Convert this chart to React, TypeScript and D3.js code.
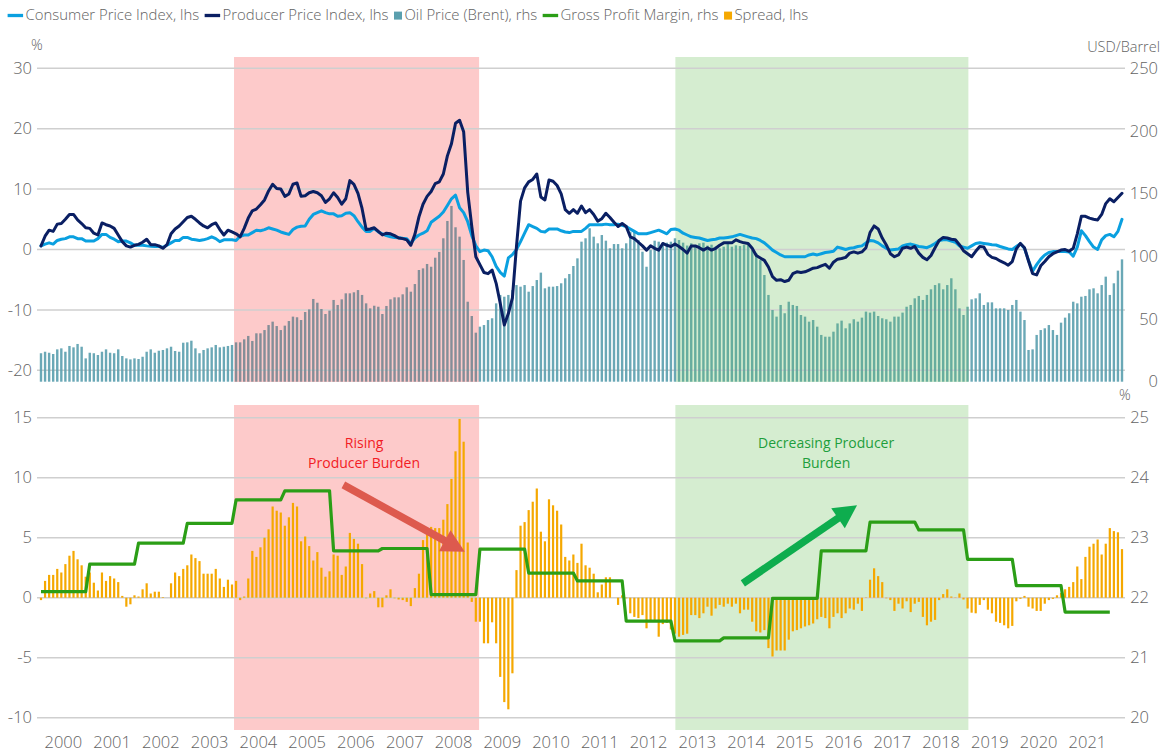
import React, { useEffect, useRef } from "react";
import * as d3 from "d3";

// ---------------- DATA (monthly, Jan 2000 – Mar 2022) ----------------
const yearLabels = ["2000","2001","2002","2003","2004","2005","2006","2007","2008","2009","2010","2011","2012","2013","2014","2015","2016","2017","2018","2019","2020","2021"];

// Consumer Price Index, % y/y (lhs, top)
const cpi2000 = [0.6, 0.9, 1.1, 0.9, 1.5, 1.7, 1.8, 2.1, 2.1, 1.8, 1.8, 1.4];
const cpi2001 = [1.4, 1.4, 1.8, 2.5, 2.5, 2.0, 1.7, 1.3, 1.4, 1.4, 1.1, 0.7];
const cpi2002 = [0.75, 0.7, 0.6, 0.55, 0.5, 0.5, 0.35, 0.7, 1.1, 1.5, 1.5, 2.0];
const cpi2003 = [2.0, 1.7, 1.6, 1.5, 1.6, 1.8, 2.1, 1.8, 1.3, 1.6, 1.6, 1.6];
const cpi2004 = [1.5, 2.2, 2.4, 2.4, 2.8, 3.2, 3.1, 3.3, 3.6, 3.4, 3.2, 2.9];
const cpi2005 = [2.7, 2.5, 3.3, 3.7, 3.85, 3.9, 5.0, 5.8, 6.1, 6.4, 6.1, 5.9];
const cpi2006 = [5.9, 5.5, 5.6, 6.0, 6.1, 5.6, 4.6, 3.7, 3.0, 3.0, 3.5, 2.9];
const cpi2007 = [2.6, 2.3, 2.1, 2.0, 1.95, 1.85, 1.8, 1.0, 1.9, 2.4, 2.7, 3.1];
const cpi2008 = [4.5, 5.0, 5.5, 6.2, 7.3, 8.4, 9.0, 6.9, 6.1, 4.6, 2.3, 0.6];
const cpi2009 = [-0.35, -0.1, -0.2, -1.2, -2.8, -3.8, -4.4, -1.4, -0.85, 0.0, 1.3, 2.7];
const cpi2010 = [4.1, 3.8, 3.5, 3.0, 2.9, 3.4, 3.4, 3.4, 3.1, 2.9, 2.8, 3.0];
const cpi2011 = [3.0, 3.0, 3.5, 4.1, 4.1, 4.1, 4.1, 4.2, 4.1, 4.1, 4.2, 4.0];
const cpi2012 = [3.8, 3.4, 3.0, 2.6, 2.6, 2.6, 2.8, 3.0, 3.2, 2.9, 2.6, 3.3];
const cpi2013 = [3.4, 3.2, 2.7, 2.4, 2.1, 2.0, 1.9, 1.7, 1.5, 1.6, 1.7, 1.9];
const cpi2014 = [1.9, 2.0, 2.1, 2.3, 2.5, 2.3, 2.1, 1.9, 1.8, 1.5, 1.1, 0.5];
const cpi2015 = [-0.1, -0.5, -0.9, -1.2, -1.2, -1.2, -1.2, -1.2, -1.2, -0.9, -0.75, -0.9];
const cpi2016 = [-0.7, -0.5, -0.4, -0.3, 0.4, 0.2, 0.0, 0.2, 0.3, 0.5, 0.6, 1.1];
const cpi2017 = [1.5, 1.4, 1.1, 0.6, 0.2, -0.1, 0.0, 0.1, 0.6, 0.8, 0.9, 0.7];
const cpi2018 = [0.5, 0.4, 0.3, 0.6, 1.0, 1.5, 1.6, 1.6, 1.4, 1.2, 0.6, 0.4];
const cpi2019 = [0.2, 0.6, 1.0, 1.1, 1.0, 0.9, 0.8, 0.75, 0.5, 0.3, 0.1, 0.0];
const cpi2020 = [0.5, 0.95, 0.2, -1.8, -3.6, -2.5, -1.6, -0.9, -0.5, -0.35, -0.35, -0.35];
const cpi2021 = [-0.35, -0.4, -1.1, 0.4, 3.1, 2.3, 1.3, 0.4, 0.0, 1.6, 2.3, 2.5];
const cpi2022 = [2.1, 3.0, 5.0];

// Producer Price Index, % y/y (lhs, top)
const ppi2000 = [0.6, 2.2, 3.2, 3.0, 4.2, 4.3, 5.0, 5.8, 5.8, 4.9, 4.3, 3.6];
const ppi2001 = [3.5, 2.7, 2.4, 4.4, 4.1, 3.9, 3.5, 2.4, 1.3, 0.6, 0.4, 0.7];
const ppi2002 = [0.85, 1.2, 1.7, 0.8, 0.8, 0.6, 0.2, 0.8, 2.6, 3.4, 3.9, 4.6];
const ppi2003 = [5.3, 5.5, 5.0, 4.4, 3.9, 3.6, 4.1, 4.4, 3.3, 2.4, 3.2, 2.9];
const ppi2004 = [2.6, 2.1, 3.5, 5.2, 6.4, 6.7, 7.4, 8.2, 9.7, 10.8, 10.1, 10.0];
const ppi2005 = [8.8, 9.2, 10.8, 11.0, 8.8, 8.9, 9.4, 9.6, 9.4, 8.9, 7.8, 8.4];
const ppi2006 = [9.4, 8.6, 7.5, 8.4, 11.4, 10.8, 9.3, 6.8, 3.3, 3.4, 3.6, 3.0];
const ppi2007 = [2.4, 2.7, 2.6, 2.3, 1.9, 1.8, 1.6, 0.7, 2.5, 5.4, 7.5, 8.8];
const ppi2008 = [9.6, 10.9, 11.2, 12.5, 15.5, 17.5, 20.9, 21.4, 19.5, 9.5, 3.8, -1.2];
const ppi2009 = [-2.5, -3.8, -4.0, -3.4, -5.6, -8.9, -12.5, -10.6, -8.0, 0.5, 8.0, 10.2];
const ppi2010 = [11.2, 11.6, 12.5, 8.7, 8.2, 11.5, 11.3, 10.6, 9.2, 6.6, 6.0, 6.6];
const ppi2011 = [6.0, 7.2, 6.1, 6.6, 5.8, 4.7, 5.1, 6.0, 5.3, 4.5, 3.8, 4.3];
const ppi2012 = [3.8, 2.1, 1.8, 1.2, 0.6, -0.1, 0.6, 0.2, -0.1, 1.0, 0.7, 0.5];
const ppi2013 = [0.9, 0.5, 0.0, -0.6, 0.6, 0.6, 0.3, -0.1, 0.3, -0.1, 0.2, 0.7];
const ppi2014 = [1.1, 1.1, 1.1, 1.6, 1.3, 1.1, 1.0, 0.2, -1.0, -1.4, -1.8, -2.9];
const ppi2015 = [-4.5, -5.1, -5.0, -5.3, -5.1, -4.0, -3.7, -3.8, -3.7, -3.4, -3.1, -3.0];
const ppi2016 = [-2.7, -2.45, -3.1, -2.1, -1.6, -1.5, -1.3, -0.6, -0.4, -0.6, -0.4, 0.3];
const ppi2017 = [2.8, 3.9, 3.4, 1.9, 0.75, -0.7, -1.2, -0.9, 0.2, 0.4, 0.2, 0.5];
const ppi2018 = [-0.6, -1.3, -1.7, -1.0, 0.3, 1.5, 2.0, 1.9, 1.7, 1.6, 0.8, -0.2];
const ppi2019 = [-0.7, -1.2, -0.3, 0.5, 0.4, -0.8, -1.3, -1.5, -1.9, -2.2, -2.6, -2.0];
const ppi2020 = [0.1, 1.0, 0.3, -1.9, -4.0, -4.2, -2.7, -2.0, -1.2, -0.7, -0.4, -0.1];
const ppi2021 = [0.0, -0.3, 0.2, 2.6, 5.5, 5.5, 5.2, 5.0, 4.9, 5.8, 7.6, 8.4];
const ppi2022 = [7.9, 8.6, 9.3];

// Oil Price (Brent), USD/Barrel (rhs, top)
const oil2000 = [22.7, 23.9, 23.1, 22.1, 25.8, 26.6, 23.9, 28.5, 27.4, 30.1, 27.9, 18.6];
const oil2001 = [23.1, 22.7, 21.3, 23.9, 25.8, 23.1, 22.7, 25.8, 20.5, 18.6, 17.8, 18.6];
const oil2002 = [18.1, 19.9, 23.9, 25.8, 23.1, 24.7, 25.3, 26.6, 27.9, 24.5, 23.9, 31.1];
const oil2003 = [31.4, 32.7, 26.6, 22.7, 25.3, 26.6, 27.4, 29.3, 27.4, 27.9, 28.5, 29.3];
const oil2004 = [31.4, 31.4, 33.8, 36.5, 32.5, 38.6, 38.6, 41.2, 45.2, 47.9, 44.4, 41.2];
const oil2005 = [44.7, 48.4, 51.9, 51.4, 49.2, 55.6, 57.7, 66.0, 63.0, 58.0, 54.0, 56.7];
const oil2006 = [65.2, 61.2, 65.7, 70.5, 70.5, 71.3, 73.1, 69.2, 62.5, 58.5, 60.6, 59.8];
const oil2007 = [54.0, 60.4, 65.7, 67.3, 67.3, 69.7, 75.3, 71.8, 77.9, 89.1, 90.4, 93.9];
const oil2008 = [91.7, 98.9, 103.5, 114.4, 128.2, 140.2, 123.2, 115.7, 97.1, 63.8, 52.4, 39.1];
const oil2009 = [43.9, 45.2, 49.2, 50.6, 62.5, 69.2, 67.8, 69.2, 73.1, 77.1, 75.8, 77.1];
const oil2010 = [71.8, 76.3, 81.1, 87.0, 74.5, 75.8, 75.8, 76.3, 78.5, 82.5, 85.9, 92.3];
const oil2011 = [98.4, 111.7, 114.4, 122.4, 115.7, 110.4, 117.0, 112.5, 106.4, 109.8, 109.8, 106.4];
const oil2012 = [110.4, 119.7, 119.7, 113.0, 103.7, 91.7, 105.0, 112.5, 111.7, 109.8, 110.9, 111.7];
const oil2013 = [114.4, 113.0, 110.9, 108.6, 110.4, 107.7, 110.4, 110.9, 108.6, 109.3, 107.7, 106.4];
const oil2014 = [107.7, 109.8, 107.7, 108.8, 108.2, 109.0, 110.4, 105.0, 102.4, 97.0, 85.1, 69.2];
const oil2015 = [57.2, 51.9, 61.2, 54.6, 63.8, 61.2, 60.4, 53.2, 51.9, 47.9, 49.2, 43.9];
const oil2016 = [37.3, 35.9, 35.9, 39.9, 46.5, 48.7, 42.6, 46.5, 49.8, 47.9, 51.1, 55.9];
const oil2017 = [55.1, 55.9, 52.4, 50.6, 49.8, 47.9, 51.9, 51.9, 55.1, 59.8, 61.2, 66.5];
const oil2018 = [68.4, 65.2, 69.2, 73.7, 77.1, 78.5, 73.7, 77.1, 82.5, 73.7, 58.5, 53.2];
const oil2019 = [59.8, 65.7, 66.5, 70.5, 61.2, 63.3, 63.3, 58.5, 58.5, 58.5, 57.2, 61.2];
const oil2020 = [65.2, 55.9, 49.2, 25.3, 25.8, 37.3, 41.2, 42.6, 45.2, 41.2, 37.3, 47.1];
const oil2021 = [51.1, 54.6, 63.8, 62.5, 67.8, 68.4, 73.7, 74.5, 70.5, 77.1, 83.8, 69.2];
const oil2022 = [78.5, 88.6, 97.6];

// Spread, percentage points (lhs, bottom)
const spr2000 = [-0.2, 1.4, 1.9, 1.9, 2.4, 2.1, 2.8, 3.5, 3.9, 3.2, 2.7, 1.75];
const spr2001 = [2.1, 1.25, 0.6, 2.1, 1.4, 1.8, 1.6, 1.3, 0.15, -0.75, -0.55, 0.2];
const spr2002 = [0.1, 0.7, 1.2, 0.35, 0.5, 0.5, 0.05, 0.0, 1.2, 2.1, 1.8, 2.4];
const spr2003 = [2.7, 3.6, 3.3, 3.05, 2.0, 2.0, 2.0, 2.4, 1.6, 0.9, 1.5, 1.1];
const spr2004 = [1.4, -0.2, 0.1, 1.6, 3.9, 3.4, 4.2, 5.0, 5.7, 7.6, 7.25, 7.1];
const spr2005 = [6.0, 6.7, 7.9, 7.6, 4.7, 5.1, 4.3, 3.1, 3.8, 2.5, 1.75, 2.2];
const spr2006 = [3.6, 3.5, 1.9, 2.6, 5.4, 4.9, 4.5, 2.8, -0.05, 0.35, 0.55, -0.8];
const spr2007 = [-0.8, 0.2, 0.7, -0.05, -0.15, -0.2, -0.35, -0.7, 0.8, 2.0, 4.8, 5.5];
const spr2008 = [5.9, 5.8, 5.8, 6.5, 7.8, 9.9, 12.2, 14.9, 13.0, 4.6, -0.35, -2.0];
const spr2009 = [-2.0, -3.8, -3.8, -2.05, -3.8, -6.6, -8.7, -9.3, -6.3, 2.3, 6.0, 6.3];
const spr2010 = [7.3, 8.0, 9.1, 5.5, 4.7, 8.2, 7.7, 7.25, 6.1, 3.4, 3.1, 3.6];
const spr2011 = [2.9, 4.5, 2.7, 2.5, 2.0, 0.45, 1.1, 1.7, 1.7, 0.0, -0.6, 0.2];
const spr2012 = [-0.05, -1.3, -1.6, -1.7, -1.45, -2.55, -2.0, -1.85, -3.25, -2.2, -2.1, -2.65];
const spr2013 = [-3.0, -3.25, -3.1, -3.0, -1.45, -1.45, -1.7, -1.3, -0.75, -1.5, -0.9, -0.6];
const spr2014 = [-0.75, -0.5, -0.75, -0.5, -1.3, -1.0, -1.0, -2.0, -2.8, -2.9, -2.7, -4.2];
const spr2015 = [-4.9, -4.4, -4.4, -4.4, -3.5, -2.8, -2.7, -2.55, -2.4, -2.3, -2.15, -1.8];
const spr2016 = [-1.6, -1.7, -2.55, -1.6, -1.3, -1.7, -1.3, -0.9, -1.0, -0.5, -1.1, 0.03];
const spr2017 = [1.5, 2.45, 1.8, 1.3, -0.05, -0.2, -1.1, -0.5, -0.9, -0.3, -1.2, -0.5];
const spr2018 = [-0.35, -1.6, -2.3, -2.0, -1.85, -0.2, 0.3, 0.7, 0.1, 0.03, 0.35, -0.15];
const spr2019 = [-0.9, -1.25, -1.3, -0.6, -0.2, -1.0, -1.3, -2.0, -2.1, -2.3, -2.55, -2.35];
const spr2020 = [-0.3, -0.1, 0.15, -0.75, -0.9, -1.1, -1.1, -0.5, -0.2, -0.1, 0.2, 0.4];
const spr2021 = [0.7, 0.9, 1.3, 2.6, 1.55, 3.4, 4.25, 4.5, 4.85, 3.6, 4.5, 5.8];
const spr2022 = [5.55, 5.45, 4.05];

// Gross Profit Margin, % (rhs, bottom) — one value per year 2000–2021
const gpmAnnual = [22.10, 22.56, 22.91, 23.24, 23.63, 23.78, 22.78, 22.82, 22.05, 22.81, 22.41, 22.28, 21.61, 21.28, 21.33, 21.99, 22.78, 23.26, 23.13, 22.64, 22.20, 21.76];

const cpiByYear = [cpi2000, cpi2001, cpi2002, cpi2003, cpi2004, cpi2005, cpi2006, cpi2007, cpi2008, cpi2009, cpi2010, cpi2011, cpi2012, cpi2013, cpi2014, cpi2015, cpi2016, cpi2017, cpi2018, cpi2019, cpi2020, cpi2021, cpi2022];
const ppiByYear = [ppi2000, ppi2001, ppi2002, ppi2003, ppi2004, ppi2005, ppi2006, ppi2007, ppi2008, ppi2009, ppi2010, ppi2011, ppi2012, ppi2013, ppi2014, ppi2015, ppi2016, ppi2017, ppi2018, ppi2019, ppi2020, ppi2021, ppi2022];
const oilByYear = [oil2000, oil2001, oil2002, oil2003, oil2004, oil2005, oil2006, oil2007, oil2008, oil2009, oil2010, oil2011, oil2012, oil2013, oil2014, oil2015, oil2016, oil2017, oil2018, oil2019, oil2020, oil2021, oil2022];
const spreadByYear = [spr2000, spr2001, spr2002, spr2003, spr2004, spr2005, spr2006, spr2007, spr2008, spr2009, spr2010, spr2011, spr2012, spr2013, spr2014, spr2015, spr2016, spr2017, spr2018, spr2019, spr2020, spr2021, spr2022];

const leftTicksTop = [-20, -10, 0, 10, 20, 30];
const rightTicksTop = [0, 50, 100, 150, 200, 250];
const leftTicksBottom = [-10, -5, 0, 5, 10, 15];
const rightTicksBottom = [20, 21, 22, 23, 24, 25];

// shaded periods, in month-index units (0 = Jan 2000)
const periods = [
  { from: 47.5, to: 107.8, fill: "#FDCACA", barTint: "#E03030" },
  { from: 156.1, to: 228.2, fill: "#D5EDD0", barTint: "#5DB84A" },
];

// annotations, month index / spread-axis value
const annotations = [
  { lines: ["Rising", "Producer Burden"], at: 79.5, v: 12.45, color: "#F21C24" },
  { lines: ["Decreasing Producer", "Burden"], at: 193.2, v: 12.45, color: "#1E9E3C" },
];
const arrows = [
  { from: [74.4, 9.4], to: [104.3, 3.83], color: "#DD5A4E" },
  { from: [172.7, 1.2], to: [200.8, 7.7], color: "#0EAD4E" },
];

const C_CPI = "#0AA0E0";
const C_PPI = "#0A1F63";
const C_OIL = "#5A9FAE";
const C_GPM = "#2B9E16";
const C_SPR = "#F5A800";

const legendItems = [
  { label: "Consumer Price Index, lhs", kind: "line", color: C_CPI },
  { label: "Producer Price Index, lhs", kind: "line", color: C_PPI },
  { label: "Oil Price (Brent), rhs", kind: "square", color: C_OIL },
  { label: "Gross Profit Margin, rhs", kind: "line", color: C_GPM },
  { label: "Spread, lhs", kind: "square", color: C_SPR },
];

const FONT = "'Open Sans', 'Noto Sans', 'DejaVu Sans', sans-serif";
const TXT = "#636363";

export default function App() {
  const ref = useRef<SVGSVGElement | null>(null);

  useEffect(() => {
    const svg = d3.select(ref.current);
    svg.selectAll("*").remove();

    const cpi = cpiByYear.flat();
    const ppi = ppiByYear.flat();
    const oil = oilByYear.flat();
    const spread = spreadByYear.flat();
    const gpm = gpmAnnual.flatMap((v) => [v, v, v, v, v, v, v, v, v, v, v, v]);
    const N = cpi.length;

    const x = d3.scaleLinear().domain([0, N - 1]).range([41, 1122]);
    const gx0 = 37, gx1 = 1125;
    const topY0 = 57, topY1 = 382, botY0 = 405, botY1 = 730;

    const yL = d3.scaleLinear().domain([-20, 30]).range([370.3, 68.3]);
    const yR = d3.scaleLinear().domain([0, 250]).range([381.7, 68.3]);
    const yS = d3.scaleLinear().domain([-10, 15]).range([717.7, 417.7]);
    const yG = d3.scaleLinear().domain([20, 25]).range([717.7, 417.7]);

    svg.append("rect").attr("width", 1163).attr("height", 753).attr("fill", "#fff");

    // shading
    const shade = svg.append("g");
    periods.forEach((p) => {
      [[topY0, topY1], [botY0, botY1]].forEach(([a, b]) => {
        shade.append("rect")
          .attr("x", x(p.from)).attr("width", x(p.to) - x(p.from))
          .attr("y", a).attr("height", b - a).attr("fill", p.fill);
      });
    });

    // gridlines
    const grid = svg.append("g").attr("stroke", "#CFCFCF").attr("stroke-width", 1.5);
    leftTicksTop.forEach((t) => grid.append("line").attr("x1", gx0).attr("x2", gx1).attr("y1", yL(t)).attr("y2", yL(t)));
    leftTicksBottom.forEach((t) => grid.append("line").attr("x1", gx0).attr("x2", gx1).attr("y1", yS(t)).attr("y2", yS(t)));

    // oil bars (tinted where a shaded period lies over them)
    const bw = 2.4;
    const barFill = (i: number) => {
      const p = periods.find((q) => i >= q.from && i <= q.to);
      return p ? d3.interpolateRgb(C_OIL, p.barTint)(0.22) : C_OIL;
    };
    svg.append("g").selectAll("rect").data(oil).join("rect")
      .attr("x", (_d, i) => x(i) - bw / 2).attr("width", bw)
      .attr("y", (d) => yR(d)).attr("height", (d) => yR(0) - yR(d))
      .attr("fill", (_d, i) => barFill(i)).attr("fill-opacity", 0.9);

    // lines top
    const lineL = d3.line<number>().x((_d, i) => x(i)).y((d) => yL(d));
    svg.append("path").attr("d", lineL(cpi)!).attr("fill", "none").attr("stroke", C_CPI)
      .attr("stroke-width", 3).attr("stroke-linejoin", "round").attr("stroke-linecap", "round");
    svg.append("path").attr("d", lineL(ppi)!).attr("fill", "none").attr("stroke", C_PPI)
      .attr("stroke-width", 3).attr("stroke-linejoin", "round").attr("stroke-linecap", "round");

    // spread bars
    const sw = 2.2;
    svg.append("g").selectAll("rect").data(spread).join("rect")
      .attr("x", (_d, i) => x(i) - sw / 2).attr("width", sw)
      .attr("y", (d) => Math.min(yS(d), yS(0))).attr("height", (d) => Math.abs(yS(d) - yS(0)))
      .attr("fill", C_SPR);

    // GPM line
    const lineG = d3.line<number>().x((_d, i) => x(i)).y((d) => yG(d));
    svg.append("path").attr("d", lineG(gpm)!).attr("fill", "none").attr("stroke", C_GPM)
      .attr("stroke-width", 3.2).attr("stroke-linejoin", "round");

    // arrows
    arrows.forEach((a) => {
      const x1 = x(a.from[0]), y1 = yS(a.from[1]);
      const x2 = x(a.to[0]), y2 = yS(a.to[1]);
      const dx = x2 - x1, dy = y2 - y1, len = Math.hypot(dx, dy);
      const ux = dx / len, uy = dy / len;
      const hl = 23, hw = 12;
      const bx = x2 - ux * hl, by = y2 - uy * hl;
      svg.append("line").attr("x1", x1).attr("y1", y1).attr("x2", bx + ux * 2).attr("y2", by + uy * 2)
        .attr("stroke", a.color).attr("stroke-width", 7.5);
      svg.append("path")
        .attr("d", `M${x2},${y2}L${bx - uy * hw},${by + ux * hw}L${bx + uy * hw},${by - ux * hw}Z`)
        .attr("fill", a.color);
    });

    // annotation text
    annotations.forEach((an) => {
      an.lines.forEach((ln, k) => {
        svg.append("text").attr("x", x(an.at)).attr("y", yS(an.v) + k * 20)
          .attr("text-anchor", "middle").attr("font-family", FONT).attr("font-size", 14)
          .attr("font-weight", 400).attr("fill", an.color).text(ln);
      });
    });

    // axis labels
    const lab = svg.append("g").attr("font-family", FONT).attr("fill", TXT).attr("font-size", 16.5).attr("font-weight", 300);
    leftTicksTop.forEach((t) => lab.append("text").attr("x", 32).attr("y", yL(t)).attr("dy", "0.35em").attr("text-anchor", "end").text(String(t)));
    leftTicksBottom.forEach((t) => lab.append("text").attr("x", 32).attr("y", yS(t)).attr("dy", "0.35em").attr("text-anchor", "end").text(String(t)));
    rightTicksTop.forEach((t) => lab.append("text").attr("x", 1158).attr("y", yR(t)).attr("dy", "0.35em").attr("text-anchor", "end").text(String(t)));
    rightTicksBottom.forEach((t) => lab.append("text").attr("x", 1149).attr("y", yG(t)).attr("dy", "0.35em").attr("text-anchor", "end").text(String(t)));
    yearLabels.forEach((y, k) => lab.append("text").attr("x", x(k * 12 + 5.5)).attr("y", 748).attr("text-anchor", "middle").text(y));

    const unit = svg.append("g").attr("font-family", FONT).attr("fill", TXT).attr("font-size", 14.5).attr("font-weight", 300);
    unit.append("text").attr("x", 31).attr("y", 50).text("%");
    unit.append("text").attr("x", 1160).attr("y", 51.5).attr("text-anchor", "end").text("USD/Barrel");
    unit.append("text").attr("x", 1119).attr("y", 400).text("%");

    // legend
    const lg = svg.append("g").attr("font-family", FONT).attr("font-size", 14.9).attr("font-weight", 300).attr("fill", TXT);
    let cx = 7.6;
    legendItems.forEach((it) => {
      if (it.kind === "line") {
        lg.append("line").attr("x1", cx).attr("x2", cx + 15.5).attr("y1", 15.5).attr("y2", 15.5)
          .attr("stroke", it.color).attr("stroke-width", 3.3);
        cx += 15.5 + 2.4;
      } else {
        lg.append("rect").attr("x", cx).attr("y", 11.6).attr("width", 8).attr("height", 8).attr("fill", it.color);
        cx += 8 + 2.4;
      }
      const t = lg.append("text").attr("x", cx).attr("y", 20.3).text(it.label);
      const w = (t.node() as SVGTextElement).getComputedTextLength();
      cx += w + 5.5;
    });
  }, []);

  return (
    <svg ref={ref} width={1163} height={753}
      style={{ position: "absolute", left: 0, top: 0, display: "block" }} />
  );
}
